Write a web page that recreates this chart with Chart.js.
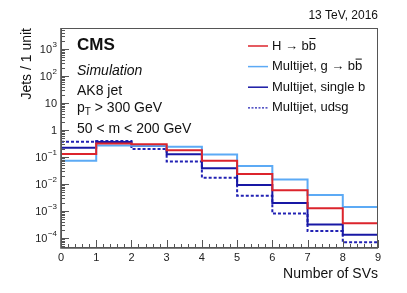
<!DOCTYPE html>
<html>
<head>
<meta charset="utf-8">
<script src="https://cdn.jsdelivr.net/npm/chart.js@4/dist/chart.umd.min.js"></script>
<style>
  html, body { margin: 0; padding: 0; background: #fff; }
  canvas { display: block; }
</style>
</head>
<body>
<canvas id="svChart" width="407" height="293"></canvas>
<script>
// bin edges (number of SVs) and normalised yields per bin
const binEdges = [0, 1, 2, 3, 4, 5, 6, 7, 8, 9];
const hbb     = [0.13, 0.32, 0.30, 0.18, 0.073, 0.0235, 0.0059, 0.00126, 0.00035];
const gbb     = [0.073, 0.27, 0.26, 0.24, 0.123, 0.047, 0.0148, 0.0039, 0.0014];
const singleB = [0.22, 0.36, 0.26, 0.126, 0.038, 0.0093, 0.0020, 0.00032, 0.000132];
const udsg    = [0.37, 0.39, 0.20, 0.068, 0.017, 0.0037, 0.00081, 0.00018, 0.000069];

const seriesNames = ['H \u2192 b', 'Multijet, g \u2192 b', 'Multijet, single b', 'Multijet, udsg'];
const yDecades = [-4, -3, -2, -1, 0, 1, 2, 3];
const yMin = Math.pow(10, -4.37);
const yMax = Math.pow(10, 3.78);

const FONT = '"Liberation Sans", Arial, Helvetica, sans-serif';

// histogram -> step points (last bin repeated at the right edge)
function toSteps(vals) {
    const pts = vals.map((v, i) => ({ x: binEdges[i], y: v }));
    pts.push({ x: binEdges[binEdges.length - 1], y: vals[vals.length - 1] });
    return pts;
}

function hist(label, vals, color, dash) {
    return {
        label,
        data: toSteps(vals),
        borderColor: color,
        borderWidth: 2,
        borderDash: dash || [],
        stepped: true,
        pointRadius: 0,
        fill: false,
        tension: 0
    };
}

// ROOT-like frame, ticks, labels and legend
const rootStyle = {
    id: 'rootStyle',
    afterDatasetsDraw(chart) {
        const { ctx, chartArea: a, scales: { x, y } } = chart;
        ctx.save();

        // frame
        ctx.strokeStyle = '#555';
        ctx.lineWidth = 1;
        ctx.strokeRect(a.left + 0.5, a.top + 0.5, a.right - a.left - 1, a.bottom - a.top - 1);
        ctx.lineWidth = 1.6;
        ctx.beginPath();
        ctx.moveTo(a.left, a.top);
        ctx.lineTo(a.left, a.bottom);
        ctx.lineTo(a.right, a.bottom);
        ctx.stroke();

        // x ticks, 5 subdivisions
        ctx.lineWidth = 1;
        ctx.beginPath();
        for (let i = 0; i <= 45; i++) {
            const px = Math.round(x.getPixelForValue(i / 5)) + 0.5;
            const len = i % 5 === 0 ? 8 : 4;
            ctx.moveTo(px, a.bottom);
            ctx.lineTo(px, a.bottom - len);
        }
        // y ticks, log minors
        for (let d = -5; d <= 3; d++) {
            for (let m = 1; m <= 9; m++) {
                const v = m * Math.pow(10, d);
                if (v < yMin || v > yMax) continue;
                const py = Math.round(y.getPixelForValue(v)) + 0.5;
                const len = m === 1 ? 8 : 4;
                ctx.moveTo(a.left, py);
                ctx.lineTo(a.left + len, py);
            }
        }
        ctx.stroke();

        // y tick labels with superscripts
        ctx.fillStyle = '#222';
        ctx.textBaseline = 'middle';
        yDecades.forEach(e => {
            const py = y.getPixelForValue(Math.pow(10, e));
            const rx = a.left - 4;
            if (e === 0 || e === 1) {
                ctx.font = '11px ' + FONT;
                ctx.textAlign = 'right';
                ctx.fillText(e === 0 ? '1' : '10', rx, py + 1);
                return;
            }
            const sup = e < 0 ? '\u2212' + (-e) : String(e);
            ctx.font = '8px ' + FONT;
            const sw = ctx.measureText(sup).width;
            ctx.textAlign = 'right';
            ctx.fillText(sup, rx, py - 4);
            ctx.font = '11px ' + FONT;
            ctx.fillText('10', rx - sw - 0.5, py + 1);
        });

        // axis titles
        ctx.fillStyle = '#111';
        ctx.font = '14px ' + FONT;
        ctx.textAlign = 'right';
        ctx.textBaseline = 'alphabetic';
        ctx.fillText('Number of SVs', a.right, 278);
        ctx.save();
        ctx.translate(31, a.top);
        ctx.rotate(-Math.PI / 2);
        ctx.fillText('Jets / 1 unit', 0, 0);
        ctx.restore();

        ctx.font = '12px ' + FONT;
        ctx.fillText('13 TeV, 2016', a.right, 19);

        // CMS label block
        ctx.textAlign = 'left';
        ctx.font = 'bold 17px ' + FONT;
        ctx.fillText('CMS', 77, 50);
        ctx.font = 'italic 14px ' + FONT;
        ctx.fillText('Simulation', 77, 75);
        ctx.font = '14px ' + FONT;
        ctx.fillText('AK8 jet', 77, 95);
        ctx.fillText('p', 77, 112);
        const pw = ctx.measureText('p').width;
        ctx.font = '10px ' + FONT;
        ctx.fillText('T', 77 + pw, 115);
        const tw = ctx.measureText('T').width;
        ctx.font = '14px ' + FONT;
        ctx.fillText(' > 300 GeV', 77 + pw + tw, 112);
        ctx.fillText('50 < m < 200 GeV', 77, 133);

        // legend
        ctx.font = '13px ' + FONT;
        chart.data.datasets.forEach((ds, i) => {
            const cy = 46 + i * 20.6;
            ctx.strokeStyle = ds.borderColor;
            ctx.lineWidth = i === 3 ? 1.2 : 1.5;
            ctx.setLineDash(i === 3 ? [2, 1.5] : []);
            ctx.beginPath();
            ctx.moveTo(248, cy);
            ctx.lineTo(268, cy);
            ctx.stroke();
            ctx.setLineDash([]);
            ctx.fillStyle = '#111';
            ctx.textBaseline = 'middle';
            ctx.fillText(seriesNames[i], 272, cy);
            if (i < 2) {
                // trailing b-bar
                const bx = 272 + ctx.measureText(seriesNames[i]).width;
                ctx.fillText('b', bx, cy);
                const bw = ctx.measureText('b').width;
                ctx.strokeStyle = '#111';
                ctx.lineWidth = 1;
                ctx.beginPath();
                ctx.moveTo(bx + 0.5, cy - 7.5);
                ctx.lineTo(bx + bw - 0.5, cy - 7.5);
                ctx.stroke();
            }
        });

        ctx.restore();
    }
};

new Chart(document.getElementById('svChart'), {
    type: 'line',
    data: {
        datasets: [
            hist(seriesNames[0], hbb, 'rgb(220,36,44)'),
            hist(seriesNames[1], gbb, 'rgb(92,170,245)'),
            hist(seriesNames[2], singleB, 'rgb(24,24,165)'),
            hist(seriesNames[3], udsg, 'rgb(34,34,180)', [3, 2])
        ]
    },
    options: {
        responsive: false,
        animation: false,
        devicePixelRatio: 1,
        layout: { padding: { left: 0, top: 28, right: 29, bottom: 0 } },
        plugins: { legend: { display: false }, tooltip: { enabled: false } },
        scales: {
            x: {
                type: 'linear',
                min: 0,
                max: 9,
                grid: { display: false, drawTicks: false, tickLength: 0 },
                border: { display: false },
                ticks: {
                    stepSize: 1,
                    padding: 3,
                    color: '#222',
                    font: { family: FONT, size: 11 },
                    maxRotation: 0
                },
                afterFit(s) { s.height = 45; }
            },
            y: {
                type: 'logarithmic',
                min: yMin,
                max: yMax,
                grid: { display: false },
                border: { display: false },
                ticks: { display: false },
                afterFit(s) { s.width = 61; }
            }
        }
    },
    plugins: [rootStyle]
});
</script>
</body>
</html>
